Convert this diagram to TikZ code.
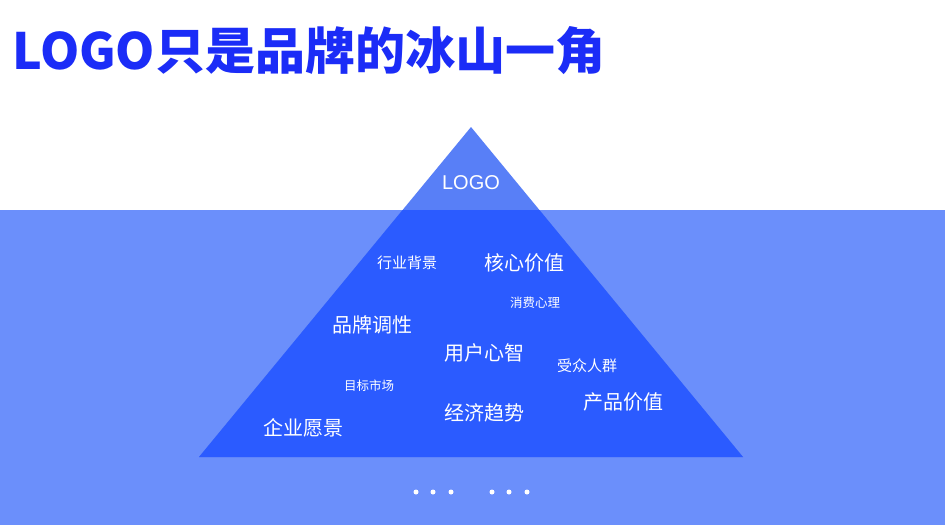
\documentclass[tikz,border=0pt]{standalone}
\usepackage{fontspec}
\setmainfont{Noto Sans CJK SC}
\newfontfamily\latinfont{Liberation Sans}
\definecolor{titleblue}{HTML}{1B2CF7}
\definecolor{waterblue}{HTML}{6B8FFB}
\definecolor{tipblue}{HTML}{587FF7}
\definecolor{deepblue}{HTML}{2B5BFF}
\begin{document}
\begin{tikzpicture}[x=1pt,y=-1pt,
  lbl/.style={text=white,inner sep=0pt,anchor=center},
  big/.style={lbl,font=\fontsize{20}{20}\selectfont},
  mid/.style={lbl,font=\fontsize{15}{15}\selectfont},
  small/.style={lbl,font=\fontsize{12.5}{12.5}\selectfont},
  dot/.style={circle,fill=white,inner sep=0pt,minimum size=5pt}]
\useasboundingbox (0,0) rectangle (945,525);
\fill[white] (0,0) rectangle (945,525);
% water
\fill[waterblue] (0,210) rectangle (945,525);
% iceberg
\coordinate (apex) at (471,127);
\coordinate (bl) at (199,457);
\coordinate (br) at (743,457);
\fill[tipblue] (apex) -- (bl) -- (br) -- cycle;
\begin{scope}
\clip (0,210) rectangle (945,525);
\fill[deepblue] (apex) -- (bl) -- (br) -- cycle;
\end{scope}
% title
\node[anchor=base west,inner sep=0pt,text=titleblue,font=\fontsize{50}{50}\selectfont\bfseries] (title) at (12,69) {LOGO只是品牌的冰山一角};
% labels
\node[lbl,font=\latinfont\fontsize{20}{20}\selectfont] (logo) at (471,182.5) {LOGO};
\node[mid] (hybj) at (407,262.5) {行业背景};
\node[big] (hxjz) at (524,262.5) {核心价值};
\node[small] (xfxl) at (535,302.5) {消费心理};
\node[big] (ppdx) at (372,324.5) {品牌调性};
\node[big] (yhxz) at (484,352.5) {用户心智};
\node[mid] (szrq) at (587,365.5) {受众人群};
\node[small] (mbsc) at (369,385.5) {目标市场};
\node[big] (jjqs) at (484,412.5) {经济趋势};
\node[big] (cpjz) at (623,401.5) {产品价值};
\node[big] (qyyj) at (303,427.5) {企业愿景};
% dots
\node[dot] (d1) at (416,492) {};
\node[dot] (d2) at (433,492) {};
\node[dot] (d3) at (451,492) {};
\node[dot] (d4) at (492,492) {};
\node[dot] (d5) at (509,492) {};
\node[dot] (d6) at (527,492) {};
\end{tikzpicture}
\end{document}
